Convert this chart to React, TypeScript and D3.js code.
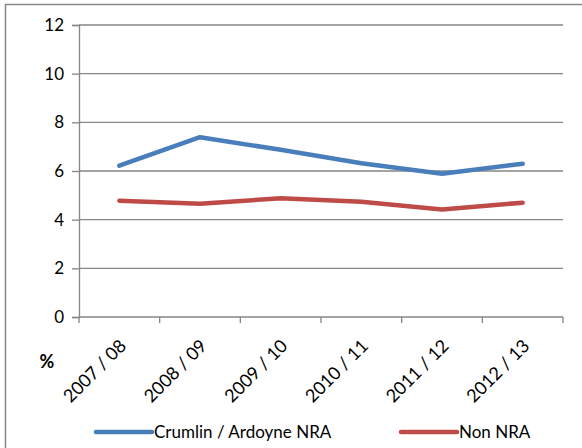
import React, { useEffect, useRef } from "react";
import * as d3 from "d3";

// school years on the x axis
const years = ["2007 / 08", "2008 / 09", "2009 / 10", "2010 / 11", "2011 / 12", "2012 / 13"];
// % values
const crumlin = [6.22, 7.39, 6.87, 6.32, 5.89, 6.3];
const nonNra = [4.78, 4.65, 4.88, 4.74, 4.42, 4.7];
const yTicks = [0, 2, 4, 6, 8, 10, 12];
const seriesNames = ["Crumlin / Ardoyne NRA", "Non NRA"];
const seriesColors = ["#4a7ebb", "#be4b48"];

const W = 582;
const H = 448;
const FONT = "Lato, 'Open Sans', sans-serif";
const GRID = "#868686";

export default function App() {
  const ref = useRef<SVGSVGElement>(null);

  useEffect(() => {
    const svg = d3.select(ref.current);
    svg.selectAll("*").remove();

    const margin = { top: 25, right: 19, bottom: 131, left: 79 };
    const x = d3
      .scaleBand()
      .domain(years)
      .range([margin.left, W - margin.right])
      .padding(0);
    const y = d3
      .scaleLinear()
      .domain([0, 12])
      .range([H - margin.bottom, margin.top]);

    // outer chart border (only top and left are inside the frame)
    svg
      .append("path")
      .attr("d", `M5.5,${H + 5}V4.5H${W + 5}`)
      .attr("fill", "none")
      .attr("stroke", GRID)
      .attr("stroke-width", 1.5);

    // y ticks and labels
    const yAxis = svg
      .append("g")
      .attr("transform", `translate(${margin.left},0)`)
      .call(
        d3
          .axisLeft(y)
          .tickValues(yTicks)
          .tickSize(7)
          .tickPadding(8)
          .tickFormat(d3.format("d"))
      );
    yAxis.select(".domain").attr("stroke", GRID).attr("stroke-width", 1.3);
    yAxis.selectAll(".tick line").attr("stroke", GRID).attr("stroke-width", 1.3);
    yAxis
      .selectAll(".tick text")
      .attr("fill", "#000")
      .style("font-family", FONT)
      .style("font-size", "17px");

    // horizontal gridlines
    svg
      .append("g")
      .selectAll("line")
      .data(yTicks.filter((t) => t > 0))
      .enter()
      .append("line")
      .attr("x1", margin.left)
      .attr("x2", W - margin.right)
      .attr("y1", (d) => y(d))
      .attr("y2", (d) => y(d))
      .attr("stroke", GRID)
      .attr("stroke-width", 1.3);

    // x axis with ticks on category boundaries
    const x0 = y(0);
    svg
      .append("line")
      .attr("x1", margin.left)
      .attr("x2", W - margin.right)
      .attr("y1", x0)
      .attr("y2", x0)
      .attr("stroke", GRID)
      .attr("stroke-width", 1.3);
    const bounds = years.map((c) => x(c) as number).concat([W - margin.right]);
    svg
      .append("g")
      .selectAll("line")
      .data(bounds)
      .enter()
      .append("line")
      .attr("x1", (d) => d)
      .attr("x2", (d) => d)
      .attr("y1", x0)
      .attr("y2", x0 + 6)
      .attr("stroke", GRID)
      .attr("stroke-width", 1.3);

    const cx = (c: string) => (x(c) as number) + x.bandwidth() / 2;

    svg
      .append("g")
      .selectAll("text")
      .data(years)
      .enter()
      .append("text")
      .attr("transform", (d) => `translate(${cx(d) + 8},${x0 + 30}) rotate(-45)`)
      .attr("text-anchor", "end")
      .style("font-family", FONT)
      .style("font-size", "18px")
      .text((d) => d);

    // "%" axis title
    svg
      .append("text")
      .attr("x", 47)
      .attr("y", x0 + 51)
      .attr("text-anchor", "middle")
      .style("font-family", FONT)
      .style("font-size", "18px")
      .style("font-weight", "bold")
      .text("%");

    // series lines
    const line = d3
      .line<number>()
      .x((_, i) => cx(years[i]))
      .y((d) => y(d));
    [crumlin, nonNra].forEach((vals, i) => {
      svg
        .append("path")
        .datum(vals)
        .attr("fill", "none")
        .attr("stroke", seriesColors[i])
        .attr("stroke-width", 4.5)
        .attr("stroke-linecap", "round")
        .attr("stroke-linejoin", "round")
        .attr("d", line);
    });

    // legend
    const legendX = [96, 401];
    const legendY = 432;
    seriesNames.forEach((name, i) => {
      const g = svg.append("g").attr("transform", `translate(${legendX[i]},${legendY})`);
      g.append("line")
        .attr("x1", 0)
        .attr("x2", 56)
        .attr("stroke", seriesColors[i])
        .attr("stroke-width", 4.5)
        .attr("stroke-linecap", "round");
      g.append("text")
        .attr("x", 58)
        .attr("dy", "0.35em")
        .style("font-family", FONT)
        .style("font-size", "17px")
        .text(name);
    });
  }, []);

  return (
    <div style={{ position: "absolute", left: 0, top: 0 }}>
      <svg ref={ref} width={W} height={H} style={{ display: "block", background: "#fff" }} />
    </div>
  );
}
